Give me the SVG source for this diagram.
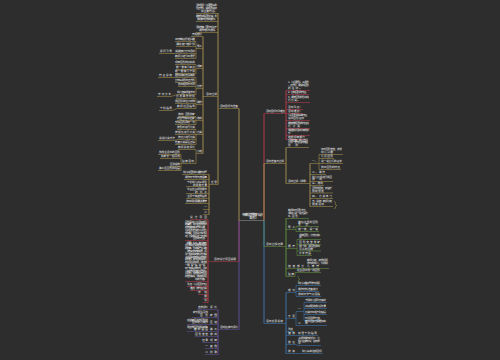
<svg xmlns="http://www.w3.org/2000/svg" width="500" height="360" viewBox="0 0 500 360">
<style>
.t{font-family:"Noto Sans CJK SC","Noto Sans",sans-serif;font-size:2.7px;fill:#f0f0f0}
.c{font-size:2.9px;fill:#ffffff}
.e{text-anchor:end}
.u{fill:none;stroke-width:.6}
.s{fill:none;stroke-width:1}
.gd{stroke:#a08c4e}.rd{stroke:#b03a4a}.pu{stroke:#5e4f95}.gr{stroke:#5f8f3e}.bl{stroke:#3d72a6}.gy{stroke:#8a8a8a}
</style>
<rect width="500" height="360" fill="#2d2d2d"/>
<g id="connectors">
<path class="s rd" d="M239,220.5V261.5"/>
<path class="s pu" d="M239,220.5V329.5"/>
<path class="s gd" d="M239,220.5V108.5"/>
<path class="s gd" d="M218,13V184.5"/>
<path class="s gd" d="M203,36.5V153.5"/>
<path class="u gd" d="M196,41.5V58.5M196,64.5V73.5M196,77.5V94.5M196,98.5V108.5M196,116.5V124.5M196,129.5V144.5M196,149.5V163.5M181,154.5V170.5"/>
<path class="s gd" d="M209,174.5V214.5"/>
<path class="s rd" d="M208,219.5V302.5"/>
<path class="s pu" d="M218,309.5V354.5"/>
<path class="s rd" d="M264,220.5V113.5"/>
<path class="s gd" d="M264,220.5V163.5"/>
<path class="s gr" d="M264,220.5V246.5"/>
<path class="s bl" d="M264,220.5V323.5"/>
<path class="s rd" d="M286,90.5V139.5"/>
<path class="s gd" d="M286,147.5V183.5M310,163.5V206.5"/>
<path class="u gd" d="M319,154.5V169.5"/>
<path class="s gr" d="M286,218.5V276.5"/>
<path class="u gr" d="M296,226.5V231.5M297,239.5V255.5M295,272.5V276.5"/>
<path class="s bl" d="M286,292.5V353.5"/>
<path class="u bl" d="M296,285.5V296.5M296,311.5V325.5M304,302.5V320.5"/>
</g>
<g id="center"><text class="t c" x="242" y="215.5" textLength="21">中班数学优秀教案《认识</text><text class="t c" x="249.5" y="219">图形》</text><path class="u gy" d="M239,220.5H264"/></g>
<g id="left-gold">
<g id="g1"><text class="t e" x="238" y="107" textLength="18">活动目标与准备</text><path class="u gd" d="M219,108.5H239"/></g>
<g id="g1a"><text class="t e" x="217" y="6" textLength="21">活动目标：认识圆形三角</text><text class="t e" x="217" y="9" textLength="21">形正方形，说出图形名称</text><text class="t e" x="217" y="12" textLength="16">和主要特征。</text><path class="u gd" d="M196,13.5H218"/></g>
<g id="g1b"><text class="t e" x="217" y="17" textLength="21">能按形状给图形分类，发</text><text class="t e" x="217" y="20" textLength="20">展观察与比较的能力。</text><path class="u gd" d="M196,21.5H218"/></g>
<g id="g1c"><text class="t e" x="217" y="28" textLength="21">活动准备：图形卡片若干</text><text class="t e" x="217" y="31" textLength="18">操作材料与课件。</text><path class="u gd" d="M196,32.5H218"/></g>
<g id="g2"><text class="t e" x="217" y="95" textLength="11">活动过程</text><path class="u gd" d="M203,96.5H218"/></g>
<g id="g3a"><text class="t e" x="202" y="35" textLength="10">开始部分</text><path class="u gd" d="M191,36.5H203"/></g>
<g id="g3b"><text class="t e" x="202" y="47" textLength="5">导入</text><path class="u gd" d="M196,48.5H203"/></g>
<g id="g3c"><text class="t e" x="202" y="67" textLength="5">观察</text><path class="u gd" d="M196,68.5H203"/></g>
<g id="g3d"><text class="t e" x="202" y="87" textLength="5">比较</text><path class="u gd" d="M196,88.5H203"/></g>
<g id="g3e"><text class="t e" x="202" y="103" textLength="5">操作</text><path class="u gd" d="M196,104.5H203"/></g>
<g id="g3f"><text class="t e" x="202" y="119" textLength="5">游戏</text><path class="u gd" d="M196,120.5H203"/></g>
<g id="g3g"><text class="t e" x="202" y="133" textLength="5">分类</text><path class="u gd" d="M196,134.5H203"/></g>
<g id="g3h"><text class="t e" x="202" y="152" textLength="5">小结</text><path class="u gd" d="M196,153.5H203"/></g>
<g id="g4a"><text class="t e" x="195" y="40" textLength="20">出示神秘袋引起兴趣</text><path class="u gd" d="M175,41.5H196"/></g>
<g id="g4b"><text class="t e" x="195" y="45" textLength="19">请幼儿摸一摸猜一猜</text><path class="u gd" d="M176,46.5H196"/></g>
<g id="g4c"><text class="t e" x="195" y="52" textLength="20">说说摸到了什么形状</text><path class="u gd" d="M175,53.5H196"/></g>
<g id="g4c2"><text class="t e" x="172" y="52" textLength="12">提问引导</text><path class="u gd" d="M159,53.5H175"/></g>
<g id="g4d"><text class="t e" x="195" y="57" textLength="20">教师小结引出课题</text><path class="u gd" d="M175,58.5H196"/></g>
<g id="g4e"><text class="t e" x="195" y="63" textLength="20">观察图形的边和角</text><path class="u gd" d="M175,64.5H196"/></g>
<g id="g4f"><text class="t e" x="195" y="68" textLength="19">数一数有几条边</text><path class="u gd" d="M176,69.5H196"/></g>
<g id="g4g"><text class="t e" x="195" y="72" textLength="20">数一数有几个角</text><path class="u gd" d="M175,73.5H196"/></g>
<g id="g4h"><text class="t e" x="195" y="76" textLength="20">圆形没有边也没有角</text><path class="u gd" d="M175,77.5H196"/></g>
<g id="g4h2"><text class="t e" x="172" y="76" textLength="13">特征总结</text><path class="u gd" d="M158,77.5H175"/></g>
<g id="g4i"><text class="t e" x="195" y="81" textLength="20">比较三角形与正方形</text><path class="u gd" d="M175,82.5H196"/></g>
<g id="g4j"><text class="t e" x="195" y="85" textLength="17">找出相同与不同</text><path class="u gd" d="M178,86.5H196"/></g>
<g id="g4k"><text class="t e" x="195" y="93" textLength="18">幼儿自由发言交流</text><path class="u gd" d="M177,94.5H196"/></g>
<g id="g4k2"><text class="t e" x="171" y="95" textLength="13">交流分享</text><path class="u gd" d="M157,96.5H171L177,94.5"/></g>
<g id="g4l"><text class="t e" x="195" y="97" textLength="19">分发操作材料</text><path class="u gd" d="M176,98.5H196"/></g>
<g id="g4m"><text class="t e" x="195" y="102" textLength="20">用图形拼搭小动物</text><path class="u gd" d="M175,103.5H196"/></g>
<g id="g4n"><text class="t e" x="195" y="107" textLength="18">教师巡回指导</text><path class="u gd" d="M177,108.5H196"/></g>
<g id="g4n2"><text class="t e" x="172" y="109" textLength="12">个别指导</text><path class="u gd" d="M159,110.5H172L177,108.5"/></g>
<g id="g4o"><text class="t e" x="195" y="115" textLength="17">游戏：图形找家</text><path class="u gd" d="M178,116.5H196"/></g>
<g id="g4p"><text class="t e" x="195" y="119" textLength="18">听信号找到对应家</text><path class="u gd" d="M177,120.5H196"/></g>
<g id="g4q"><text class="t e" x="195" y="123" textLength="20">交换图形再玩一次</text><path class="u gd" d="M175,124.5H196"/></g>
<g id="g4r"><text class="t e" x="195" y="128" textLength="18">按形状进行分类</text><path class="u gd" d="M177,129.5H196"/></g>
<g id="g4s"><text class="t e" x="195" y="133" textLength="20">按颜色进行分类</text><path class="u gd" d="M175,134.5H196"/></g>
<g id="g4t"><text class="t e" x="195" y="138" textLength="17">按大小进行分类</text><path class="u gd" d="M178,139.5H196"/></g>
<g id="g4t2"><text class="t e" x="175" y="139" textLength="16">说说分类方法</text><path class="u gd" d="M158,140.5H174L178,139.5"/></g>
<g id="g4u"><text class="t e" x="195" y="143" textLength="20">检查分类是否正确</text><path class="u gd" d="M175,144.5H196"/></g>
<g id="g4v"><text class="t e" x="195" y="148" textLength="17">教师总结评价</text><path class="u gd" d="M178,149.5H196"/></g>
<g id="g4w"><text class="t e" x="194" y="162" textLength="12">延伸活动</text><path class="u gd" d="M181,163.5H196"/></g>
<g id="g5a"><text class="t e" x="180" y="153" textLength="21">找找生活中的图形</text><path class="u gd" d="M158,154.5H181"/></g>
<g id="g5b"><text class="t e" x="180" y="157" textLength="19">和家长一起寻找</text><path class="u gd" d="M160,158.5H181"/></g>
<g id="g5c"><text class="t e" x="180" y="165" textLength="10">区角投放</text><path class="u gd" d="M169,166.5H181"/></g>
<g id="g5d"><text class="t e" x="180" y="169" textLength="21">美工区图形拼贴画</text><path class="u gd" d="M158,170.5H181"/></g>
<g id="g6"><text class="t e" x="217" y="183" textLength="6">反思</text><path class="u gd" d="M209,184.5H218"/></g>
<g id="g6a"><text class="t e" x="207" y="173" textLength="24">幼儿对图形的兴趣较浓厚</text><path class="u gd" d="M182,174.5H209"/></g>
<g id="g6b"><text class="t e" x="207" y="178" textLength="22">操作环节参与度很高</text><path class="u gd" d="M184,179.5H209"/></g>
<g id="g6c"><text class="t e" x="207" y="183" textLength="20">个别幼儿对三角形</text><text class="t e" x="207" y="185.5" textLength="14">的角数不清</text><path class="u gd" d="M186,186.5H209"/></g>
<g id="g6d"><text class="t e" x="207" y="190" textLength="20">今后应多提供操作</text><text class="t e" x="207" y="192.5" textLength="12">的机会</text><path class="u gd" d="M186,193.5H209"/></g>
<g id="g6e"><text class="t e" x="207" y="197" textLength="20">注意个体差异指导</text><path class="u gd" d="M186,198.5H209"/></g>
<g id="g6f"><text class="t e" x="207" y="202" textLength="21">游戏规则需要讲清楚</text><path class="u gd" d="M185,203.5H209"/></g>
<g id="g6g"><text class="t e" x="207" y="208" textLength="4">一</text><path class="u gd" d="M203,209.5H209"/></g>
<g id="g6h"><text class="t e" x="207" y="213" textLength="4">二</text><path class="u gd" d="M203,214.5H209"/></g>
</g>
<g id="left-red">
<g id="r1"><text class="t e" x="236" y="260" textLength="22">活动设计意图说明</text><path class="u rd" d="M209,261.5H239"/></g>
<g id="r1a"><text class="t e" x="207" y="218" textLength="17">设计意图</text><path class="u rd" d="M190,219.5H208"/></g>
<g id="r1b"><text class="t e" x="207" y="222.5" textLength="22">图形是幼儿生活中常见</text><text class="t e" x="207" y="225.3" textLength="22">的事物，幼儿对各种形状</text><text class="t e" x="207" y="228.1" textLength="22">的物体有着浓厚的兴趣，</text><text class="t e" x="207" y="230.9" textLength="22">但对图形特征的认识还比</text><text class="t e" x="207" y="233.7" textLength="22">较模糊，因此设计本次活</text><text class="t e" x="207" y="236.5" textLength="22">动，帮助幼儿进一步感知</text><text class="t e" x="207" y="239.3" textLength="14">图形的特征。</text><path class="u rd" d="M185,240.5H208"/></g>
<g id="r1c"><text class="t e" x="207" y="243.5" textLength="22">《纲要》指出，数学教育</text><text class="t e" x="207" y="246.3" textLength="22">应引导幼儿对周围环境中</text><text class="t e" x="207" y="249.1" textLength="22">的数量、形状等产生兴趣</text><text class="t e" x="207" y="251.9" textLength="22">，建构初步的数概念，并</text><text class="t e" x="207" y="254.7" textLength="22">学习用简单的数学方法解</text><text class="t e" x="207" y="257.5" textLength="22">决生活和游戏中某些简单</text><text class="t e" x="207" y="260.3" textLength="22">的问题。本次活动从幼儿</text><text class="t e" x="207" y="263.1" textLength="22">的生活经验出发，通过摸</text><text class="t e" x="207" y="265.9" textLength="22">一摸、看一看、说一说、</text><text class="t e" x="207" y="268.7" textLength="22">玩一玩等多种方式，让幼</text><text class="t e" x="207" y="271.5" textLength="22">儿在轻松愉快的氛围中认</text><text class="t e" x="207" y="274.3" textLength="22">识图形，感受数学与生活</text><text class="t e" x="207" y="277.1" textLength="22">的密切联系，体验数学活</text><text class="t e" x="207" y="279.9" textLength="12">动的乐趣。</text><path class="u rd" d="M185,281.5H208"/></g>
<g id="r1d"><text class="t e" x="207" y="285" textLength="20">重点：认识图形特征</text><path class="u rd" d="M187,286.5H208"/></g>
<g id="r1e"><text class="t e" x="207" y="289" textLength="17">难点：按特征分类</text><path class="u rd" d="M190,290.5H208"/></g>
<g id="r1f"><text class="t e" x="207" y="293" textLength="9">中班</text><path class="u rd" d="M198,294.5H208"/></g>
<g id="r1g"><text class="t e" x="207" y="297" textLength="4">数</text><path class="u rd" d="M203,298.5H208"/></g>
<g id="r1h"><text class="t e" x="207" y="301" textLength="4">学</text><path class="u rd" d="M203,302.5H208"/></g>
</g>
<g id="left-purple">
<g id="p1"><text class="t e" x="238" y="328" textLength="18">活动延伸与评价</text><path class="u pu" d="M218,329.5H239"/></g>
<g id="p2a"><text class="t e" x="217" y="308" textLength="7">评价</text><path class="u pu" d="M209,309.5H218"/></g>
<g id="p3a"><text class="t e" x="208" y="308" textLength="10">自我评价</text><path class="u pu" d="M197,309.5H209"/></g>
<g id="p2b"><text class="t e" x="217" y="316" textLength="7">家园</text><path class="u pu" d="M209,317.5H218"/></g>
<g id="p3b"><text class="t e" x="208" y="313" textLength="15">家长配合寻找</text><text class="t e" x="208" y="316" textLength="8">图形</text><path class="u pu" d="M192,317.5H209"/></g>
<g id="p2c"><text class="t e" x="217" y="323" textLength="7">区域</text><path class="u pu" d="M209,324.5H218"/></g>
<g id="p3c"><text class="t e" x="208" y="320.5" textLength="21">在益智区投放图形拼</text><text class="t e" x="208" y="323.2" textLength="16">图供幼儿操作</text><path class="u pu" d="M187,324.5H209"/></g>
<g id="p2d"><text class="t e" x="217" y="330" textLength="7">美工</text><path class="u pu" d="M209,331.5H218"/></g>
<g id="p3d"><text class="t e" x="208" y="327.5" textLength="21">用各种图形拼贴成有</text><text class="t e" x="208" y="330.2" textLength="14">趣的画面</text><path class="u pu" d="M187,331.5H209"/></g>
<g id="p2e"><text class="t e" x="217" y="335" textLength="7">游戏</text><path class="u pu" d="M209,336.5H218"/></g>
<g id="p3e"><text class="t e" x="208" y="335" textLength="13">图形宝宝</text><path class="u pu" d="M195,336.5H209"/></g>
<g id="p2f"><text class="t e" x="217" y="341" textLength="7">观察</text><path class="u pu" d="M209,342.5H218"/></g>
<g id="p3f"><text class="t e" x="208" y="341" textLength="6">记录</text><path class="u pu" d="M202,342.5H209"/></g>
<g id="p2g"><text class="t e" x="217" y="347" textLength="7">其他</text><path class="u pu" d="M209,348.5H218"/></g>
<g id="p3g"><text class="t e" x="208" y="347" textLength="3">一</text><path class="u pu" d="M205,348.5H209"/></g>
<g id="p2h"><text class="t e" x="217" y="353" textLength="7">附录</text><path class="u pu" d="M209,354.5H218"/></g>
<g id="p3h"><text class="t e" x="208" y="353" textLength="3">二</text><path class="u pu" d="M205,354.5H209"/></g>
</g>
<g id="right-red">
<g id="rr1"><text class="t" x="266" y="112" textLength="19">活动目标与重难点</text><path class="u rd" d="M264,113.5H286"/></g>
<g id="rr1a"><text class="t" x="288" y="83" textLength="21">1、认识圆形、三角形</text><text class="t" x="288" y="86" textLength="21">、正方形，能说出图形</text><text class="t" x="288" y="89" textLength="14">的名称。</text><path class="u rd" d="M286,90.5H310"/></g>
<g id="rr1b"><text class="t" x="288" y="93" textLength="20">2、感知图形的特征。</text><path class="u rd" d="M286,94.5H309"/></g>
<g id="rr1c"><text class="t" x="288" y="98" textLength="21">3、能按图形的形状进</text><text class="t" x="288" y="101" textLength="12">行分类。</text><path class="u rd" d="M286,102.5H310"/></g>
<g id="rr1d"><text class="t" x="288" y="108" textLength="14">活动重点：</text><path class="u rd" d="M286,109.5H303"/></g>
<g id="rr1e"><text class="t" x="288" y="112" textLength="14">活动难点：</text><path class="u rd" d="M286,113.5H303"/></g>
<g id="rr1f"><text class="t" x="288" y="116" textLength="21">认识图形的基本特征，</text><text class="t" x="288" y="119" textLength="16">说出图形名称</text><path class="u rd" d="M286,120.5H310"/></g>
<g id="rr1g"><text class="t" x="288" y="124" textLength="21">能够按照图形的特征进</text><text class="t" x="288" y="127" textLength="12">行分类</text><path class="u rd" d="M286,128.5H310"/></g>
<g id="rr1h"><text class="t" x="288" y="131" textLength="21">体验数学活动带来的快</text><text class="t" x="288" y="134" textLength="10">乐</text><path class="u rd" d="M286,135.5H310"/></g>
<g id="rr1i"><text class="t" x="288" y="138" textLength="17">培养观察能力</text><path class="u rd" d="M286,139.5H306"/></g>
</g>
<g id="right-gold">
<g id="rg1"><text class="t" x="266" y="162" textLength="18">活动准备与过程</text><path class="u gd" d="M264,163.5H286"/></g>
<g id="rg1a"><text class="t" x="288" y="140.5" textLength="20">经验准备：幼儿已经</text><text class="t" x="288" y="143.3" textLength="20">认识一些常见的物品</text><text class="t" x="288" y="146" textLength="10">形状</text><path class="u gd" d="M286,147.5H309"/></g>
<g id="rg1b"><text class="t" x="288" y="182" textLength="20">活动过程（详细）</text><path class="u gd" d="M286,183.5H310"/></g>
<g id="rg2a"><text class="t" x="312" y="162" textLength="6">一、</text><path class="u gd" d="M310,163.5H319"/></g>
<g id="rg3a"><text class="t" x="321" y="150" textLength="21">出示图形宝宝，激发</text><text class="t" x="321" y="152.7" textLength="12">幼儿兴趣</text><path class="u gd" d="M319,154.5H343"/></g>
<g id="rg3b"><text class="t" x="321" y="157" textLength="12">认识图形</text><path class="u gd" d="M319,158.5H334"/></g>
<g id="rg3c"><text class="t" x="321" y="162" textLength="21">说一说它们的名字</text><path class="u gd" d="M319,163.5H343"/></g>
<g id="rg3d"><text class="t" x="321" y="168" textLength="19">找出图形的特点</text><path class="u gd" d="M319,169.5H341"/></g>
<g id="rg2b"><text class="t" x="312" y="173" textLength="13">二、操作</text><path class="u gd" d="M310,174.5H326"/></g>
<g id="rg2c"><text class="t" x="312" y="177.5" textLength="20">幼儿分组进行拼图</text><text class="t" x="312" y="180" textLength="10">游戏</text><path class="u gd" d="M310,181.5H333"/></g>
<g id="rg2d"><text class="t" x="312" y="184" textLength="11">三、游戏</text><path class="u gd" d="M310,185.5H324"/></g>
<g id="rg2e"><text class="t" x="312" y="189" textLength="20">图形找朋友，听音乐</text><text class="t" x="312" y="191.7" textLength="12">找到朋友</text><path class="u gd" d="M310,193H333"/></g>
<g id="rg2f"><text class="t" x="312" y="197" textLength="20">四、分类练习</text><path class="u gd" d="M310,198.5H333"/></g>
<g id="rg2g"><text class="t" x="312" y="202" textLength="20">五、总结：教师小结</text><text class="t" x="312" y="204.8" textLength="12">结束活动</text><path class="u gd" d="M310,206.5H333"/><path class="u gd" d="M334,201.5c1.5,0 1.5,1 1.5,2.5s0.8,1.5 1.5,1.5c-0.7,0 -1.5,0.3 -1.5,1.5s0,1.5 -1.5,1.5"/></g>
</g>
<g id="right-green">
<g id="gr1"><text class="t" x="266" y="245" textLength="17">活动过程记录</text><path class="u gr" d="M264,246.5H286"/></g>
<g id="gr1a"><text class="t" x="288" y="211" textLength="20">教师出示图形卡片，</text><text class="t" x="288" y="213.8" textLength="20">请幼儿说一说这是什</text><text class="t" x="288" y="216.6" textLength="10">么图形</text><path class="u gr" d="M286,218.5H309"/></g>
<g id="gr1b"><text class="t" x="288" y="228" textLength="7">导入</text><path class="u gr" d="M286,229.5H296"/></g>
<g id="gr2a"><text class="t" x="298" y="222.5" textLength="20">神秘袋里的图形</text><text class="t" x="298" y="225.2" textLength="10">宝宝</text><path class="u gr" d="M296,226.5H319"/></g>
<g id="gr2b"><text class="t" x="298" y="230" textLength="20">摸一摸，说一说</text><path class="u gr" d="M296,231.5H319"/></g>
<g id="gr1c"><text class="t" x="288" y="247" textLength="7">展开</text><path class="u gr" d="M286,248.5H297"/></g>
<g id="gr2c"><text class="t" x="299" y="235.5" textLength="21">观察图形，比较边和</text><text class="t" x="299" y="238.2" textLength="8">角</text><path class="u gr" d="M297,239.5H321"/></g>
<g id="gr2d"><text class="t" x="299" y="243" textLength="21">图形宝宝找家</text><path class="u gr" d="M297,244.5H321"/></g>
<g id="gr2e"><text class="t" x="299" y="247" textLength="21">拼一拼：用图形拼出</text><text class="t" x="299" y="249.7" textLength="14">漂亮的图案</text><path class="u gr" d="M297,251H321"/></g>
<g id="gr2f"><text class="t" x="299" y="254" textLength="12">分享作品</text><path class="u gr" d="M297,255.5H312"/></g>
<g id="gr1d"><text class="t" x="288" y="267" textLength="16">结束部分</text><path class="u gr" d="M286,268.5H307"/></g>
<g id="gr2g"><text class="t" x="307" y="261" textLength="21">教师小结，表扬积极</text><text class="t" x="307" y="263.8" textLength="21">参与的幼儿，带领幼</text><text class="t" x="307" y="266.6" textLength="12">儿离开</text><path class="u gr" d="M307,268.5H329"/></g>
<g id="gr1e"><text class="t" x="288" y="275" textLength="6">延伸</text><path class="u gr" d="M286,276.5H295"/></g>
<g id="gr2h"><text class="t" x="297" y="271" textLength="23">在生活中找一找图形</text><path class="u gr" d="M295,272.5H321"/><path class="u gr" d="M297.5,276.5c1.2,0 1.2,1 1.2,2s.6,1 1.2,1c-.6,0 -1.2,.3 -1.2,1s0,1.5 -1.2,1.5"/></g>
</g>
<g id="right-blue">
<g id="bl1"><text class="t" x="266" y="322" textLength="17">活动反思总结</text><path class="u bl" d="M264,323.5H286"/></g>
<g id="bl1a"><text class="t" x="288" y="291" textLength="7">成功</text><path class="u bl" d="M286,292.5H296"/></g>
<g id="bl2a"><text class="t" x="298" y="284" textLength="22">幼儿兴趣浓厚参与积极</text><path class="u bl" d="M296,285.5H321"/></g>
<g id="bl2b"><text class="t" x="298" y="290" textLength="20">操作材料准备充分</text><path class="u bl" d="M296,291.5H319"/></g>
<g id="bl2c"><text class="t" x="298" y="295" textLength="22">游戏环节气氛活跃</text><path class="u bl" d="M296,296.5H321"/></g>
<g id="bl1b"><text class="t" x="288" y="317" textLength="7">不足</text><path class="u bl" d="M286,318.5H296"/></g>
<g id="bl2d"><text class="t" x="298" y="310" textLength="5">一</text><path class="u bl" d="M296,311.5H304"/></g>
<g id="bl3a"><text class="t" x="305" y="301" textLength="21">个别幼儿注意力不集中</text><path class="u bl" d="M304,302.5H327"/></g>
<g id="bl3b"><text class="t" x="305" y="307" textLength="21">对三角形的角认识不清</text><path class="u bl" d="M304,308.5H327"/></g>
<g id="bl3c"><text class="t" x="305" y="313" textLength="21">分类时出现个别错误</text><path class="u bl" d="M304,314.5H327"/></g>
<g id="bl3d"><text class="t" x="305" y="319" textLength="15">时间把握不够</text><path class="u bl" d="M304,320.5H320"/></g>
<g id="bl2e"><text class="t" x="298" y="324" textLength="5">二</text><path class="u bl" d="M296,325.5H304"/></g>
<g id="bl3e"><text class="t" x="305" y="321.5" textLength="21">教师语言还需更加简</text><text class="t" x="305" y="324.2" textLength="10">练</text><path class="u bl" d="M304,325.5H327"/></g>
<g id="bl1c"><text class="t" x="288" y="330" textLength="5">改进</text><path class="u bl" d="M286,331.5H294"/></g>
<g id="bl1d"><text class="t" x="288" y="334" textLength="7">措施</text><path class="u bl" d="M286,335.5H297"/></g>
<g id="bl2f"><text class="t" x="298" y="334" textLength="19">加强个别指导</text><path class="u bl" d="M297,335.5H318"/></g>
<g id="bl1e"><text class="t" x="288" y="343" textLength="7">建议</text><path class="u bl" d="M286,344.5H297"/></g>
<g id="bl2g"><text class="t" x="298" y="339" textLength="22">多提供操作的机会，让</text><text class="t" x="298" y="341.7" textLength="22">幼儿在做中学，在玩中</text><text class="t" x="298" y="344.4" textLength="6">学</text><path class="u bl" d="M297,345.5H321"/></g>
<g id="bl1f"><text class="t" x="288" y="352" textLength="7">收获</text><path class="u bl" d="M286,353.5H301"/></g>
<g id="bl2h"><text class="t" x="302" y="352" textLength="20">幼儿基本达成目标</text><path class="u bl" d="M301,353.5H323"/></g>
</g>
</svg>
